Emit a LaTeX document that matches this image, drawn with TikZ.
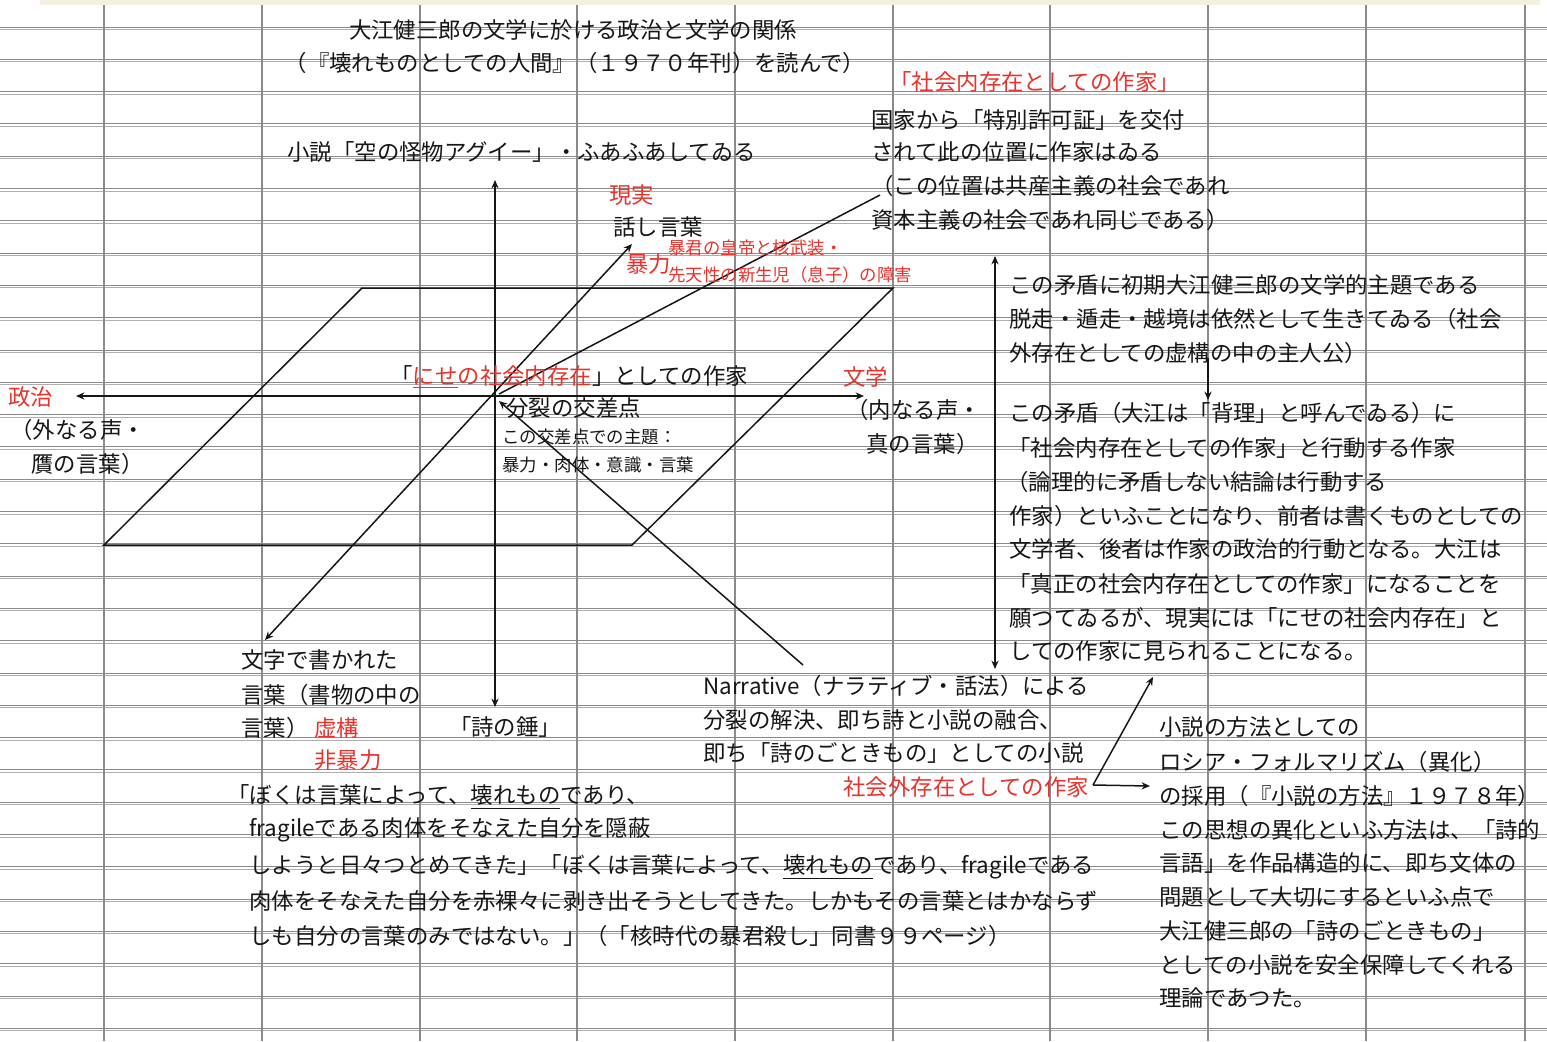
\documentclass[tikz,border=0pt]{standalone}
\usepackage{fontspec}
\setmainfont{Noto Sans CJK JP}
\usetikzlibrary{arrows.meta}
\definecolor{ink}{RGB}{22,22,22}
\definecolor{redt}{RGB}{234,50,44}
\definecolor{gridc}{RGB}{138,138,138}
\definecolor{gridl}{RGB}{175,175,175}
\definecolor{band}{RGB}{245,239,224}
\begin{document}
\begin{tikzpicture}[x=0.5pt,y=-0.5pt,
  txt/.style={anchor=west,inner sep=0pt,text=ink,font=\fontsize{11.2}{13}\selectfont},
  rtxt/.style={txt,text=redt},
  small/.style={font=\fontsize{8.7}{10}\selectfont},
  ln/.style={draw=ink,line width=0.75pt},
  arr/.style={ln,-{Stealth[length=4.2pt,width=3.6pt]}},
  darr/.style={ln,{Stealth[length=4.2pt,width=3.6pt]}-{Stealth[length=4.2pt,width=3.6pt]}},
  gridh/.style={draw=gridc,line width=0.5pt},
  gridh2/.style={draw=gridl,line width=0.5pt},
  gridv/.style={draw=gridc,line width=0.75pt}]
\useasboundingbox (0,0) rectangle (1547,1041);
\fill[white] (0,0) rectangle (1547,1041);
\fill[band] (40,0) rectangle (1540,5);
% spreadsheet grid
\foreach \k in {0,...,31} {
  \pgfmathsetmacro{\yy}{27+32.3*\k}
  \draw[gridh] (0,\yy) -- (1547,\yy);
  \draw[gridh2] (0,\yy+2.5) -- (1547,\yy+2.5);
}
\foreach \x in {104,262,420,577,735,893,1050,1208,1366,1525}
  \draw[gridv] (\x,5) -- (\x,1041);

% ---------- diagram coordinates ----------
\coordinate (O) at (496,396);
\coordinate (L) at (76,396);
\coordinate (R) at (864,396);
\coordinate (T) at (495,180);
\coordinate (B) at (495,707);
\coordinate (DL) at (265,640);
\coordinate (DU) at (632,244);
\coordinate (P1) at (362,288);
\coordinate (P2) at (893,288);
\coordinate (P3) at (632,545);
\coordinate (P4) at (104,545);
\coordinate (Q) at (880,195);
\coordinate (Q0) at (499,394);
\coordinate (S) at (803,665);
\coordinate (S0) at (499,401);
\coordinate (V1) at (995,256);
\coordinate (V2) at (995,669);
\coordinate (W1) at (1208,358);
\coordinate (W2) at (1208,400);
\coordinate (E) at (1093,785);
\coordinate (E1) at (1153,677);
\coordinate (E2) at (1150,786);

\draw[ln] (P1) -- (P2) -- (P3) -- (P4) -- cycle;
\draw[darr] (L) -- (R);
\draw[darr] (T) -- (B);
\draw[darr] (DL) -- (DU);
\draw[ln] (Q0) -- (Q);
\draw[arr] (S) -- (S0);
\draw[darr] (V1) -- (V2);
\draw[arr] (W1) -- (W2);
\draw[arr] (E) -- (E1);
\draw[arr] (E) -- (E2);

% ---------- texts ----------
\node[txt,anchor=center] (title1) at (573,30) {大江健三郎の文学に於ける政治と文学の関係};
\node[txt,anchor=center] (title2) at (575,63) {（『壊れものとしての人間』（１９７０年刊）を読んで）};

\node[rtxt] (shakainai) at (889,82) {「社会内存在としての作家」};
\node[txt] (k1) at (871,120) {国家から「特別許可証」を交付};
\node[txt] (k2) at (871,152) {されて此の位置に作家はゐる};
\node[txt] (k3) at (871,186) {（この位置は共産主義の社会であれ};
\node[txt] (k4) at (871,220) {資本主義の社会であれ同じである）};

\node[txt] (aguii) at (287,152) {小説「空の怪物アグイー」・ふあふあしてゐる};
\node[rtxt] (genjitsu) at (609,195) {現実};
\node[txt] (hanashi) at (613,227) {話し言葉};
\node[rtxt] (boryoku) at (626,264) {暴力};
\node[rtxt,small] (bokun) at (668,248) {暴君の皇帝と核武装・};
\node[rtxt,small] (sentensei) at (668,275) {先天性の新生児（息子）の障害};

\node[txt] (nise) at (390,377) {「\textcolor{redt}{\underline{にせ}の社会内存在}」としての作家};
\node[txt] (bunretsu) at (506,408) {分裂の交差点};
\node[txt,small] (shudai1) at (502,437) {この交差点での主題：};
\node[txt,small] (shudai2) at (502,465) {暴力・肉体・意識・言葉};

\node[rtxt] (seiji) at (8,397) {政治};
\node[txt] (soto1) at (10,430) {（外なる声・};
\node[txt] (soto2) at (31,464) {贋の言葉）};
\node[rtxt] (bungaku) at (843,377) {文学};
\node[txt] (uchi1) at (846,410) {（内なる声・};
\node[txt] (uchi2) at (866,444) {真の言葉）};

\node[txt] (moji1) at (241,660) {文字で書かれた};
\node[txt] (moji2) at (241,695) {言葉（書物の中の};
\node[txt] (moji3) at (241,728) {言葉）};
\node[rtxt] (kyoko) at (314,728) {虚構};
\node[rtxt] (hiboryoku) at (314,760) {非暴力};
\node[txt,anchor=center] (tsumu) at (505,727) {「詩の錘」};

\node[txt] (q1) at (227,797) {「ぼくは言葉によって、\underline{壊れもの}であり、};
\node[txt] (q2) at (249,830) {fragileである肉体をそなえた自分を隠蔽};
\node[txt] (q3) at (249,867) {しようと日々つとめてきた」「ぼくは言葉によって、\underline{壊れもの}であり、fragileである};
\node[txt] (q4) at (249,901) {肉体をそなえた自分を赤裸々に剥き出そうとしてきた。しかもその言葉とはかならず};
\node[txt] (q5) at (249,936) {しも自分の言葉のみではない。」（「核時代の暴君殺し」同書９９ページ）};

\node[txt] (n1) at (703,686) {Narrative（ナラティブ・話法）による};
\node[txt] (n2) at (703,720) {分裂の解決、即ち詩と小説の融合、};
\node[txt] (n3) at (703,753) {即ち「詩のごときもの」としての小説};
\node[rtxt] (shakaigai) at (843,787) {社会外存在としての作家};

\node[txt] (f1) at (1159,727) {小説の方法としての};
\node[txt] (f2) at (1159,762) {ロシア・フォルマリズム（異化）};
\node[txt] (f3) at (1159,796) {の採用（『小説の方法』１９７８年）};
\node[txt] (f4) at (1159,830) {この思想の異化といふ方法は、「詩的};
\node[txt] (f5) at (1159,863) {言語」を作品構造的に、即ち文体の};
\node[txt] (f6) at (1159,897) {問題として大切にするといふ点で};
\node[txt] (f7) at (1159,931) {大江健三郎の「詩のごときもの」};
\node[txt] (f8) at (1159,965) {としての小説を安全保障してくれる};
\node[txt] (f9) at (1159,998) {理論であつた。};

\node[txt] (m1) at (1009,285) {この矛盾に初期大江健三郎の文学的主題である};
\node[txt] (m2) at (1009,319) {脱走・遁走・越境は依然として生きてゐる（社会};
\node[txt] (m3) at (1009,353) {外存在としての虚構の中の主人公）};

\node[txt] (h1) at (1009,413) {この矛盾（大江は「背理」と呼んでゐる）に};
\node[txt] (h2) at (1008,448) {「社会内存在としての作家」と行動する作家};
\node[txt] (h3) at (1006,482) {（論理的に矛盾しない結論は行動する};
\node[txt] (h4) at (1009,516) {作家）といふことになり、前者は書くものとしての};
\node[txt] (h5) at (1009,549) {文学者、後者は作家の政治的行動となる。大江は};
\node[txt] (h6) at (1008,584) {「真正の社会内存在としての作家」になることを};
\node[txt] (h7) at (1009,618) {願つてゐるが、現実には「にせの社会内存在」と};
\node[txt] (h8) at (1009,651) {しての作家に見られることになる。};
\end{tikzpicture}
\end{document}
